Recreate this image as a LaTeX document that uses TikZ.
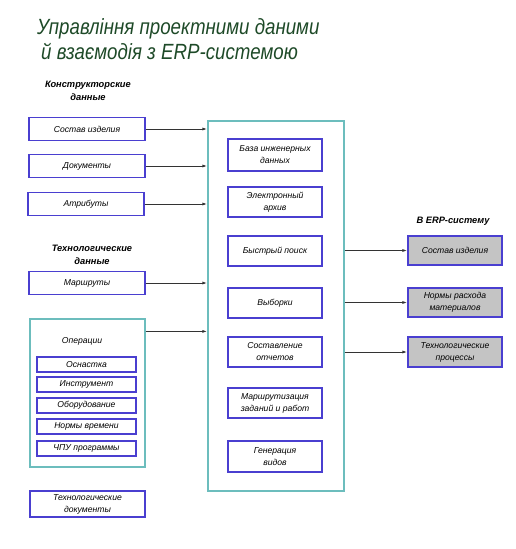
\documentclass[tikz,border=0pt]{standalone}
\usepackage{fontspec}
\setmainfont{Liberation Sans}
\newfontfamily\titlefont{Liberation Sans}[FakeStretch=0.85]
\usetikzlibrary{arrows.meta}
\definecolor{bluebox}{HTML}{4A3FD0}
\definecolor{tealbox}{HTML}{6CBDBD}
\definecolor{grayfill}{HTML}{C4C4C4}
\definecolor{titlegreen}{HTML}{1E4A28}
\tikzset{
  lbl/.style={font=\itshape\fontsize{8.6}{12}\selectfont, align=center, inner sep=0pt},
  bbox/.style={lbl, draw=bluebox, line width=1.1pt, minimum width=#1},
  bbox/.default=116pt,
  tbox/.style={draw=tealbox, line width=1.2pt, inner sep=0pt},
  gbox/.style={lbl, draw=bluebox, fill=grayfill, line width=1.1pt, minimum width=94pt},
  hdr/.style={font=\bfseries\itshape\fontsize{9.3}{12.5}\selectfont, align=center, inner sep=0pt},
  arr/.style={-{Latex[length=5pt,width=3pt]}, line width=1pt, draw=black!80},
}
\begin{document}
\begin{tikzpicture}[x=1pt,y=-1pt]
\useasboundingbox (0,0) rectangle (516,549);
% title
\node[anchor=west, inner sep=0pt, text=titlegreen, font=\titlefont\itshape\fontsize{22}{27}\selectfont, align=left] (title) at (37,39)
  {Управління проектними даними\\[-2pt]\hspace*{4pt}й взаємодія з ERP-системою};
% headers
\node[hdr] (hk) at (88,91) {Конструкторские\\данные};
\node[hdr] (ht) at (92,255) {Технологические\\данные};
\node[hdr] (he) at (453,221) {В ERP-систему};
% left boxes
\node[bbox, minimum height=23pt] (l1) at (87,129) {Состав изделия};
\node[bbox, minimum height=23pt] (l2) at (87,166) {Документы};
\node[bbox, minimum height=23pt] (l3) at (86,204) {Атрибуты};
\node[bbox, minimum height=23pt] (l4) at (87,283) {Маршруты};
% operations
\node[tbox, minimum width=115pt, minimum height=148pt] (ops) at (87.5,393) {};
\node[lbl] (opt) at (82,341) {Операции};
\node[bbox=99pt, minimum height=15pt] (o1) at (86.5,364.5) {Оснастка};
\node[bbox=99pt, minimum height=15pt] (o2) at (86.5,384.5) {Инструмент};
\node[bbox=99pt, minimum height=15pt] (o3) at (86.5,405.5) {Оборудование};
\node[bbox=99pt, minimum height=15pt] (o4) at (86.5,426.5) {Нормы времени};
\node[bbox=99pt, minimum height=15pt] (o5) at (86.5,448.5) {ЧПУ программы};
\node[bbox=115pt, minimum height=26pt] (td) at (87.5,504) {Технологические\\документы};
% central
\node[tbox, minimum width=136pt, minimum height=370pt] (big) at (276,306) {};
\node[bbox=94pt, minimum height=32pt] (c1) at (275,155) {База инженерных\\данных};
\node[bbox=94pt, minimum height=30pt] (c2) at (275,202) {Электронный\\архив};
\node[bbox=94pt, minimum height=30pt] (c3) at (275,251) {Быстрый поиск};
\node[bbox=94pt, minimum height=30pt] (c4) at (275,303) {Выборки};
\node[bbox=94pt, minimum height=30pt] (c5) at (275,352) {Составление\\отчетов};
\node[bbox=94pt, minimum height=30pt] (c6) at (275,403) {Маршрутизация\\заданий и работ};
\node[bbox=94pt, minimum height=31pt] (c7) at (275,456.5) {Генерация\\видов};
% right
\node[gbox, minimum height=29pt] (r1) at (455,250.5) {Состав изделия};
\node[gbox, minimum height=29pt] (r2) at (455,302.5) {Нормы расхода\\материалов};
\node[gbox, minimum height=30pt] (r3) at (455,352) {Технологические\\процессы};
% arrows in
\draw[arr] (l1.east) -- (l1.east -| big.west);
\draw[arr] (l2.east) -- (l2.east -| big.west);
\draw[arr] (l3.east) -- (l3.east -| big.west);
\draw[arr] (l4.east) -- (l4.east -| big.west);
\coordinate (opsout) at ([yshift=-13pt]ops.north east);
\draw[arr] (opsout) -- (opsout -| big.west);
% arrows out
\draw[arr] (r1.west -| big.east) -- (r1.west);
\draw[arr] (r2.west -| big.east) -- (r2.west);
\draw[arr] (r3.west -| big.east) -- (r3.west);
\end{tikzpicture}
\end{document}
